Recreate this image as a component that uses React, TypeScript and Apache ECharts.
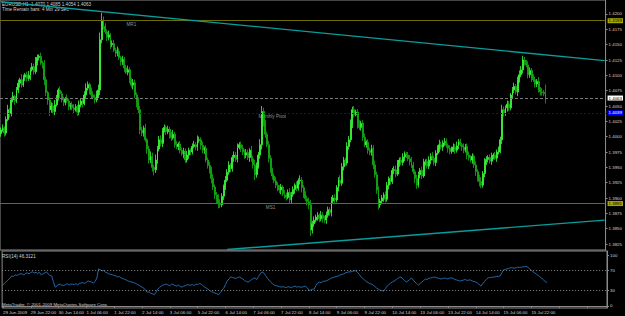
import React, { useEffect, useRef } from 'react';
import * as echarts from 'echarts';

// ---------- data (EURUSD H1, 29 Jun – 15 Jul 2009) ----------
// close of each hourly bar, in pips above 1.3800 (price = 1.3800 + pips * 0.0001)
const closePips = [
  211,214,206,228,244,238,260,266,258,276,287,293,284,297,301,295,300,309,314,306,
  322,329,331,320,318,293,272,260,244,250,241,252,264,276,270,260,256,262,258,249,
  252,247,244,249,240,252,258,254,268,279,285,276,268,264,260,268,276,358,390,380,
  371,362,366,350,352,341,336,339,329,322,326,312,305,309,293,284,288,268,256,244,
  211,206,214,195,180,162,168,150,146,162,180,195,189,210,215,208,212,203,198,204,
  187,184,188,178,172,176,162,170,178,175,184,187,183,194,195,186,178,181,162,153,
  146,132,118,105,98,92,89,103,118,129,142,154,148,166,170,163,182,187,181,175,
  170,174,166,178,164,154,138,152,170,187,241,222,204,187,165,146,136,128,121,117,
  113,118,107,105,101,109,97,106,114,121,116,128,129,117,105,99,94,89,48,58,
  64,69,72,66,72,67,64,72,81,76,95,100,97,117,129,124,151,162,157,184,
  195,220,244,236,240,220,215,222,199,187,191,178,174,181,154,138,113,89,95,100,
  105,98,121,132,127,145,146,139,157,162,158,167,172,170,164,159,154,143,132,121,
  138,145,136,159,160,152,162,168,165,158,173,180,187,183,190,192,186,181,176,180,
  183,178,185,192,187,183,178,184,170,166,162,168,154,143,133,127,121,140,159,163,
  166,160,168,170,165,175,178,195,244,238,247,253,247,268,276,282,273,293,301,309,
  325,321,317,301,308,296,293,286,290,276,273,272,270,263,
];
const firstOpen = 1.4005;
// upper / lower shadow lengths in pips
const upperWickPips = [
  4,6,3,5,8,3,4,7,2,5,6,3,9,4,3,5,7,4,6,5,
  8,5,3,6,4,7,5,3,4,6,5,8,4,3,6,4,5,3,7,4,
  3,5,6,4,3,7,4,5,6,8,5,3,4,6,5,7,9,12,12,6,
  5,4,7,3,5,6,4,8,5,3,6,4,5,7,4,3,6,5,4,8,
  6,5,4,7,3,5,8,6,4,9,5,6,7,4,5,3,6,4,5,7,
  4,6,3,5,4,6,5,7,4,3,5,6,4,8,5,4,6,3,5,4,
  6,5,7,4,5,8,6,5,4,7,5,6,3,4,6,5,7,4,5,6,
  4,6,5,3,7,5,8,6,5,9,9,6,5,4,6,5,3,4,6,5,
  4,5,3,6,4,5,7,4,5,3,6,4,8,5,4,6,5,7,8,5,
  6,4,5,3,7,5,4,6,5,4,7,5,6,4,5,8,6,5,4,7,
  6,8,5,6,4,5,7,4,5,6,3,5,4,6,5,7,5,6,4,5,
  4,6,5,3,5,4,6,7,5,4,5,6,4,3,5,6,8,5,4,6,
  5,4,6,5,3,4,6,5,7,4,5,6,8,5,4,6,5,3,5,4,
  6,5,7,4,5,3,6,4,5,6,4,5,3,6,4,5,7,4,6,5,
  4,5,6,3,5,4,6,5,8,5,4,6,5,3,5,6,4,5,7,6,
  7,5,4,6,5,4,6,5,4,7,5,6,4,15,
];
const lowerWickPips = [
  5,3,6,4,3,7,5,4,6,3,5,7,4,3,6,5,4,8,3,5,
  4,6,5,3,7,9,6,8,10,5,4,6,3,5,7,4,6,5,3,6,
  5,4,7,3,6,5,4,6,3,5,4,7,5,3,6,4,5,8,6,5,
  4,6,5,7,4,3,6,5,4,6,5,7,3,5,6,4,7,5,8,6,
  7,5,6,4,8,6,5,7,9,5,6,4,5,6,3,5,4,6,5,3,
  5,4,6,5,3,7,5,4,6,5,4,3,5,6,4,7,5,6,4,5,
  6,8,5,7,6,9,5,4,6,5,3,4,6,5,7,4,5,3,6,5,
  6,5,4,7,5,6,9,5,4,6,8,5,6,4,7,5,6,4,5,6,
  5,7,4,6,5,3,6,5,4,7,5,4,6,8,5,4,6,7,10,6,
  5,4,6,5,4,7,5,6,4,5,6,3,5,4,6,5,4,6,5,4,
  5,4,6,5,3,7,4,5,6,4,5,6,4,5,7,5,6,8,5,4,
  6,5,4,7,5,4,6,5,3,6,4,5,7,5,4,6,5,4,8,6,
  4,6,5,3,6,4,5,7,4,5,6,3,5,4,6,5,4,7,5,4,
  5,6,4,5,3,6,5,4,7,5,4,6,5,7,6,8,5,4,6,5,
  5,4,6,5,3,6,4,5,7,5,4,6,5,4,6,5,4,7,5,4,
  6,5,4,6,5,7,4,6,5,4,6,5,4,9,
];
// RSI(14)
const rsiValues = [
  41,45,48,51,55,59,58,61,60,62,63,63,61,64,65,63,66,67,65,66,
  64,66,61,63,65,67,63,60,59,48,37,39,43,42,41,40,42,44,41,43,
  43,42,44,41,45,45,46,44,47,49,48,47,45,48,55,73,71,69,70,66,
  65,63,62,61,60,59,57,58,55,54,52,51,49,48,47,46,45,43,41,39,
  37,35,31,27,28,25,24,22,27,33,36,39,41,42,43,41,40,43,42,40,
  39,41,38,37,39,40,42,41,41,42,40,43,42,44,43,40,37,35,33,30,
  28,27,25,24,22,26,31,35,42,49,53,57,56,55,54,56,57,55,53,50,
  48,47,49,52,54,55,52,58,63,67,65,60,55,51,47,44,41,40,39,38,
  37,38,37,36,38,37,36,38,39,37,38,37,37,38,39,36,31,31,33,33,
  40,45,47,46,48,49,49,51,53,55,56,57,58,59,61,62,63,65,66,67,
  67,68,69,69,66,62,57,54,51,48,46,44,43,41,38,35,33,31,30,29,
  34,39,42,45,47,49,51,54,56,57,53,50,47,49,52,55,51,47,44,41,
  44,47,50,53,52,54,55,56,57,56,55,54,53,54,55,54,53,55,55,54,
  52,51,50,49,50,51,52,50,51,51,49,48,47,45,42,39,44,48,52,55,
  56,56,57,57,58,58,59,65,71,72,73,74,75,75,74,75,76,76,76,77,
  77,78,76,73,70,67,65,62,60,57,54,51,48,46.31,
];
const xTickLabels = [
  '29 Jun 2009','29 Jun 22:00','30 Jun 14:00','1 Jul 06:00','1 Jul 22:00','2 Jul 14:00',
  '3 Jul 06:00','5 Jul 22:00','6 Jul 14:00','7 Jul 06:00','7 Jul 22:00','8 Jul 14:00',
  '9 Jul 06:00','9 Jul 22:00','10 Jul 14:00','13 Jul 06:00','13 Jul 22:00','14 Jul 14:00',
  '15 Jul 06:00','15 Jul 22:00',
];
const priceTicks = [
  1.3825,1.385,1.3875,1.39,1.3925,1.395,1.3975,1.4,1.4025,1.405,1.4075,1.41,1.4125,1.415,1.4175,1.42,
];
const rsiTicks = [0, 30, 70, 100];
const rsiLevels = [30, 70];
const levelNames = ['MR1', 'Monthly Pivot', 'MS1'];
const levelValues = [1.4189, 1.4039, 1.3891];
const bidPrice = 1.4063;
const upperTrend = [1.4220, 1.4124];
const lowerTrend = [1.3816, 1.3864];

// ---------- layout constants ----------
const SLOTS = 348;
const TICK_STEP = 16;
const LEVEL_TEXT_BAR = [75, 156, 155];
const LOWER_TREND_START = 130;
const FONT = 'Liberation Sans';
const TXT = '#d2d2d2';
const GRAY = '#8a8a8a';

export default function App() {
  const ref = useRef<HTMLDivElement>(null);
  useEffect(() => {
    if (!ref.current) return;
    const chart = echarts.init(ref.current, undefined, { renderer: 'svg' });
    const P = 0.0001;
    const base = 1.38;
    const ohlc = closePips.map((c, i) => {
      const open = i === 0 ? firstOpen : base + closePips[i - 1] * P;
      const close = base + c * P;
      const hi = Math.max(open, close) + (upperWickPips[i] ?? 4) * P;
      const lo = Math.min(open, close) - (lowerWickPips[i] ?? 4) * P;
      const r = (v: number) => Math.round(v * 10000) / 10000;
      return [r(open), r(close), r(lo), r(hi)];
    });
    const cats = Array.from({ length: SLOTS }, (_, i) => 'b' + i);
    const tagLabel = (bg: string, fg: string, text: string) => ({
      show: true, position: 'end', distance: 2, formatter: text,
      backgroundColor: bg, color: fg, fontSize: 4.4, fontFamily: FONT, padding: [1, 1, 0, 1],
    });
    chart.setOption({
      animation: false,
      backgroundColor: '#000000',
      textStyle: { fontFamily: FONT },
      grid: [
        { left: -1, top: 0, width: 608, height: 250, show: true, borderColor: GRAY, borderWidth: 1, backgroundColor: 'transparent' },
        { left: -1, top: 251, width: 608, height: 57, show: true, borderColor: GRAY, borderWidth: 1, backgroundColor: 'transparent' },
      ],
      xAxis: [
        { type: 'category', gridIndex: 0, data: cats, boundaryGap: true, axisLine: { show: false }, axisTick: { show: false }, axisLabel: { show: false }, splitLine: { show: false } },
        {
          type: 'category', gridIndex: 1, data: cats, boundaryGap: true,
          axisLine: { show: true, lineStyle: { color: GRAY } },
          axisTick: { show: true, interval: TICK_STEP - 1, alignWithLabel: true, length: 2, lineStyle: { color: GRAY } },
          axisLabel: {
            show: true, interval: TICK_STEP - 1, align: 'left', margin: 2, fontSize: 4.4, color: TXT, fontFamily: FONT,
            formatter: (_v: string, idx: number) => xTickLabels[idx / TICK_STEP] ?? '',
          },
          splitLine: { show: false },
        },
      ],
      yAxis: [
        {
          type: 'value', gridIndex: 0, position: 'right', min: 1.38153, max: 1.42228,
          axisLine: { show: true, lineStyle: { color: GRAY } },
          axisTick: { show: true, length: 2, customValues: priceTicks, lineStyle: { color: GRAY } },
          axisLabel: { show: true, customValues: priceTicks, formatter: (v: number) => v.toFixed(4), fontSize: 4.4, color: TXT, margin: 3, fontFamily: FONT },
          splitLine: { show: false },
        },
        {
          type: 'value', gridIndex: 1, position: 'right', min: -4, max: 108,
          axisLine: { show: true, lineStyle: { color: GRAY } },
          axisTick: { show: true, length: 2, customValues: rsiTicks, lineStyle: { color: GRAY } },
          axisLabel: { show: true, customValues: rsiTicks, formatter: (v: number) => String(v), fontSize: 4.4, color: TXT, margin: 3, fontFamily: FONT },
          splitLine: { show: false },
        },
      ],
      series: [
        {
          type: 'scatter', xAxisIndex: 0, yAxisIndex: 0, symbolSize: 0, silent: true, z: 1,
          data: levelNames.map((n, k) => ({ value: [LEVEL_TEXT_BAR[k], levelValues[k]], name: n })),
          label: { show: true, position: 'bottom', distance: 1, formatter: (p: any) => p.name, color: '#b8b8b8', fontSize: 4.6, fontFamily: FONT },
          markLine: {
            silent: true, symbol: ['none', 'none'], animation: false, precision: 4,
            data: [
              { yAxis: levelValues[0], lineStyle: { color: '#6e6e00', type: 'solid', width: 1 }, label: tagLabel('#a8a800', '#000000', levelValues[0].toFixed(4)) },
              { yAxis: bidPrice, lineStyle: { color: '#7a7a7a', type: [3, 2], width: 1 }, label: tagLabel('#ffffff', '#000000', bidPrice.toFixed(4)) },
              { yAxis: levelValues[1], lineStyle: { color: '#0000ff', type: [2, 2], width: 1, opacity: 1 }, label: tagLabel('#0000ff', '#ffffff', levelValues[1].toFixed(4)) },
              { yAxis: levelValues[2], lineStyle: { color: '#6e6e00', type: 'solid', width: 1 }, label: tagLabel('#a8a800', '#000000', levelValues[2].toFixed(4)) },
              [
                { coord: [0, upperTrend[0]], lineStyle: { color: '#0a9c9c', width: 1.4, type: 'solid' }, label: { show: false } },
                { coord: [SLOTS - 1, upperTrend[1]] },
              ],
              [
                { coord: [LOWER_TREND_START, lowerTrend[0]], lineStyle: { color: '#0a9c9c', width: 1.4, type: 'solid' }, label: { show: false } },
                { coord: [SLOTS - 1, lowerTrend[1]] },
              ],
            ],
          },
        },
        {
          type: 'candlestick', xAxisIndex: 0, yAxisIndex: 0, data: ohlc, barWidth: 1.4, z: 3,
          itemStyle: { color: '#3cff3c', color0: '#14b014', borderColor: '#3cff3c', borderColor0: '#14b014', borderWidth: 0.8 },
        },
        {
          type: 'line', xAxisIndex: 1, yAxisIndex: 1, data: rsiValues, showSymbol: false, symbol: 'none',
          lineStyle: { color: '#2366a8', width: 1 },
          markLine: {
            silent: true, symbol: ['none', 'none'], animation: false, label: { show: false },
            lineStyle: { color: '#8a8a8a', type: [1, 2], width: 1 },
            data: rsiLevels.map((v) => ({ yAxis: v })),
          },
        },
      ],
      graphic: [
        { type: 'text', left: 2, top: 1.5, style: { text: 'EURUSD,H1  1.4070 1.4085 1.4054 1.4063', fill: TXT, fontSize: 4.6, fontFamily: FONT } },
        { type: 'text', left: 2, top: 7, style: { text: 'Time Remain bars: 4 Min 29 Sec', fill: TXT, fontSize: 4.6, fontFamily: FONT } },
        { type: 'text', left: 2, top: 253.5, style: { text: 'RSI(14) 46.3121', fill: TXT, fontSize: 4.6, fontFamily: FONT } },
        { type: 'text', left: 2, top: 302.5, style: { text: 'MetaTrader, © 2001-2009 MetaQuotes Software Corp.', fill: TXT, fontSize: 4.4, fontFamily: FONT } },
      ],
    });
    return () => chart.dispose();
  }, []);
  return (
    <div style={{ position: 'fixed', left: 0, top: 0, width: 625, height: 316, background: '#000000' }}>
      <div ref={ref} style={{ width: 625, height: 316 }} />
    </div>
  );
}
